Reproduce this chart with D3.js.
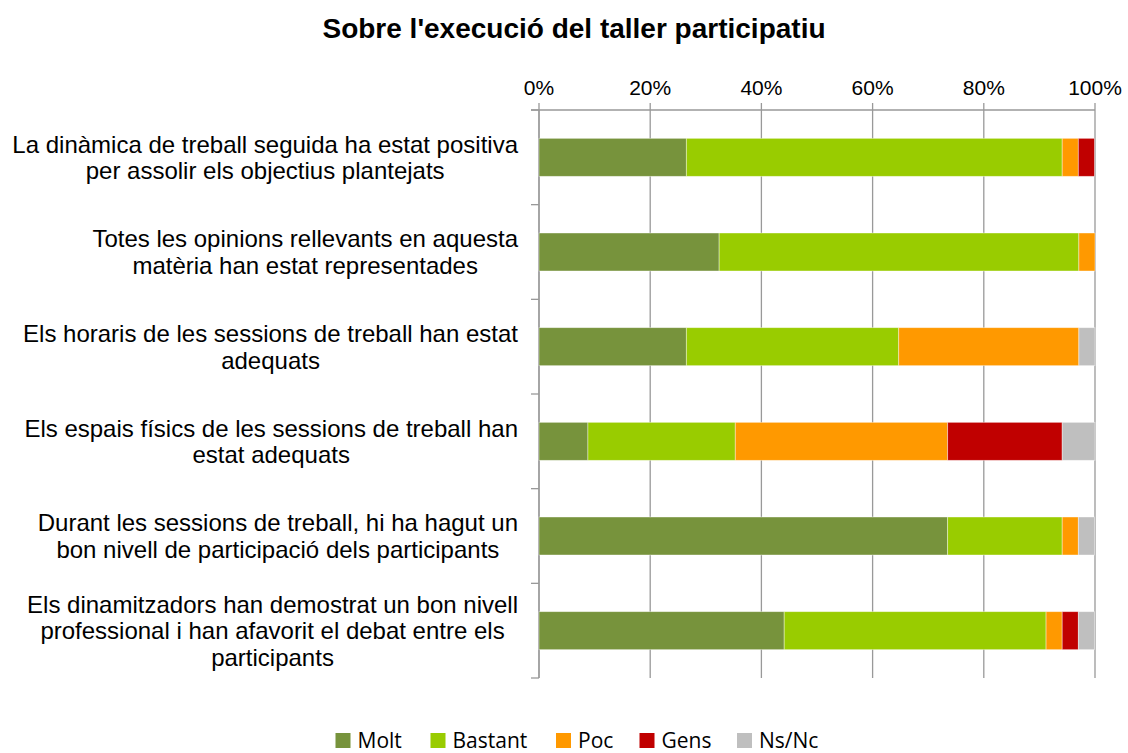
<!DOCTYPE html>
<html><head><meta charset="utf-8">
<script src="https://cdn.jsdelivr.net/npm/d3@7/dist/d3.min.js"></script>
<style>body{margin:0;background:#fff}</style>
</head><body>
<svg id="c" width="1128" height="753"></svg>
<script>
const categories = [
  ["La dinàmica de treball seguida ha estat positiva","per assolir els objectius plantejats"],
  ["Totes les opinions rellevants en aquesta","matèria han estat representades"],
  ["Els horaris de les sessions de treball han estat","adequats"],
  ["Els espais físics de les sessions de treball han","estat adequats"],
  ["Durant les sessions de treball, hi ha hagut un","bon nivell de participació dels participants"],
  ["Els dinamitzadors han demostrat un bon nivell","professional i han afavorit el debat entre els","participants"]
];
const seriesNames = ["Molt","Bastant","Poc","Gens","Ns/Nc"];
const molt    = [26.5, 32.4, 26.5,  8.8, 73.5, 44.1];
const bastant = [67.6, 64.7, 38.2, 26.5, 20.6, 47.1];
const poc     = [ 2.9,  2.9, 32.4, 38.2,  2.9,  2.9];
const gens    = [ 2.9,  0.0,  0.0, 20.6,  0.0,  2.9];
const nsnc    = [ 0.0,  0.0,  2.9,  5.9,  2.9,  2.9];
const tickValues = [0,20,40,60,80,100];
const colors = ["#77933c","#99cc00","#ff9900","#c00000","#bfbfbf"];
const title = "Sobre l'execució del taller participatiu";

(function(){
const svg = d3.select("#c");
const pL=539, pR=1095, pT=110, pB=678;
const x = d3.scaleLinear().domain([0,100]).range([pL,pR]);
const yb = d3.scaleBand().domain(d3.range(categories.length)).range([pT,pB]);

const rows = categories.map((c,i)=>({i, Molt:molt[i], Bastant:bastant[i], Poc:poc[i], Gens:gens[i], "Ns/Nc":nsnc[i]}));
const stack = d3.stack().keys(seriesNames)(rows);

svg.append("text").attr("x",574).attr("y",38).attr("text-anchor","middle")
  .attr("font-family","Liberation Sans, Arial, sans-serif").attr("font-weight","bold").attr("font-size",28).attr("fill","#000").text(title);

svg.append("g").selectAll("line").data(tickValues).join("line")
  .attr("x1",d=>x(d)).attr("x2",d=>x(d)).attr("y1",pT-7).attr("y2",pB)
  .attr("stroke","#999").attr("stroke-width",1.3);
svg.append("line").attr("x1",pL-8).attr("x2",pR).attr("y1",pT).attr("y2",pT).attr("stroke","#999").attr("stroke-width",1.3);
svg.append("g").selectAll("text").data(tickValues).join("text")
  .attr("x",d=>x(d)).attr("y",95).attr("text-anchor","middle")
  .attr("font-family","Liberation Sans, Arial, sans-serif").attr("font-size",21).attr("fill","#000")
  .text(d=>d+"%");
svg.append("line").attr("x1",pL).attr("x2",pL).attr("y1",pT).attr("y2",pB).attr("stroke","#999").attr("stroke-width",1.3);
const bounds = d3.range(categories.length+1).map(i=> i<categories.length ? yb(i) : pB);
svg.append("g").selectAll("line").data(bounds).join("line")
  .attr("x1",pL-8).attr("x2",pL).attr("y1",d=>d).attr("y2",d=>d).attr("stroke","#999").attr("stroke-width",1.3);

svg.append("g").selectAll("g").data(stack).join("g").attr("fill",(d,i)=>colors[i])
  .selectAll("rect").data(d=>d.filter(p=>p[1]-p[0]>0)).join("rect")
  .attr("x",d=>x(d[0])).attr("width",d=>x(d[1])-x(d[0]))
  .attr("y",d=>yb(d.data.i)+yb.bandwidth()/2-19).attr("height",38)
  .attr("stroke","#fff").attr("stroke-opacity",0.5).attr("stroke-width",0.8);

const lab = svg.append("g").attr("font-family","Liberation Sans, Arial, sans-serif").attr("font-size",24).attr("fill","#000");
categories.forEach((lines,i)=>{
  const widths = lines.map(l=>{const e=lab.append("text").text(l);const w=e.node().getComputedTextLength();e.remove();return w;});
  const t = lab.append("text").attr("text-anchor","middle");
  const cx = 518 - d3.max(widths)/2;
  const lh = 26.5;
  const cy = yb(i)+yb.bandwidth()/2;
  const y0 = cy + 8.7 - (lines.length-1)*lh/2;
  lines.forEach((l,k)=>t.append("tspan").attr("x",cx).attr("y",y0+k*lh).text(l));
});

const lg = svg.append("g").attr("font-family","Open Sans, Noto Sans, sans-serif").attr("font-size",21).attr("fill","#000");
const pos = [335.5, 430.5, 556, 639.5, 737];
seriesNames.forEach((s,i)=>{
  lg.append("rect").attr("x",pos[i]).attr("y",733).attr("width",15).attr("height",15).attr("fill",colors[i]);
  lg.append("text").attr("x",pos[i]+22).attr("y",748).text(s);
});
})();
</script>
</body></html>
